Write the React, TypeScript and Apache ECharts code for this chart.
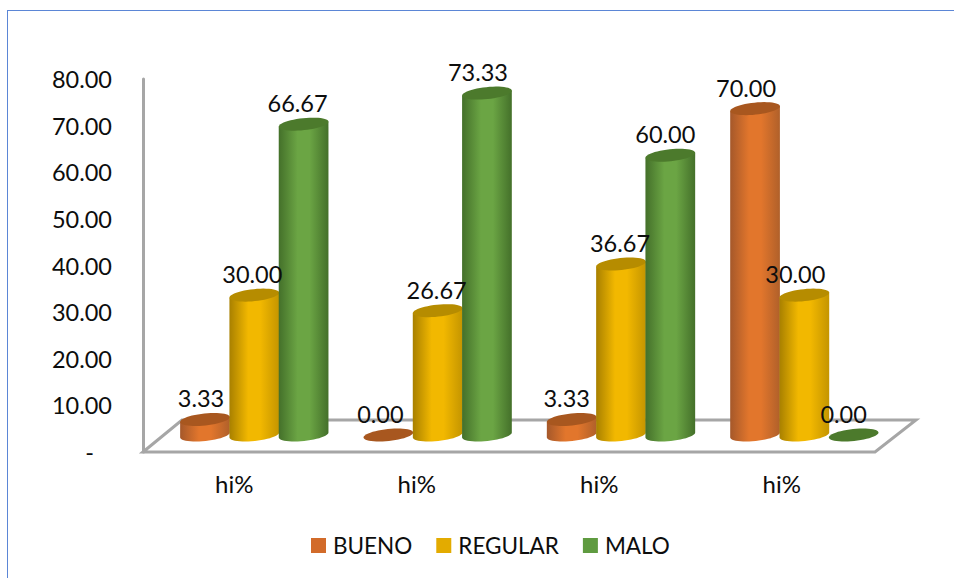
import React, { useEffect, useRef } from "react";
import * as echarts from "echarts";

const categories = ["hi%", "hi%", "hi%", "hi%"];
const seriesNames = ["BUENO", "REGULAR", "MALO"];
const bueno = [3.33, 0.0, 3.33, 70.0];
const regular = [30.0, 26.67, 36.67, 30.0];
const malo = [66.67, 73.33, 60.0, 0.0];
const seriesValues = [bueno, regular, malo];

// label horizontal nudges (px), per series then per category
const labelNudge = [
  [-4, -8, -5, -9],
  [-2, -1, -1, -9],
  [-6, -9, -5, -10],
];

const legendColors = ["#D26B2A", "#E3AB00", "#5F9B40"];
const topColors = ["#A8571F", "#B68C00", "#4C7A2C"];
const gradients = [
  ["#A5582A", "#E2762C", "#B0602A"],
  ["#A88000", "#F2B800", "#C49500"],
  ["#44702A", "#6BA544", "#44702A"],
];

const FONT = "Lato";
const LABEL_SIZE = 23.5;
const RX = 25;
const RY = 6;
const TILT = (6 * Math.PI) / 180;
const FLOOR_LIFT = 17;
const BAR_STEP = 49.3;
const GROUP_START = -29.25;
const GROUP_DRIFT = 0.85;

function ellipsePoint(cx: number, cy: number, a: number) {
  const ex = RX * Math.cos(a);
  const ey = RY * Math.sin(a);
  return [cx + ex * Math.cos(TILT) + ey * Math.sin(TILT), cy - ex * Math.sin(TILT) + ey * Math.cos(TILT)];
}

function ellipsePoints(cx: number, cy: number) {
  const pts: number[][] = [];
  for (let i = 0; i < 48; i++) pts.push(ellipsePoint(cx, cy, (i / 48) * Math.PI * 2));
  return pts;
}

function bodyPoints(cx: number, topY: number, botY: number) {
  const pts: number[][] = [];
  // lower half of the base, left tip to right tip
  for (let i = 0; i <= 24; i++) pts.push(ellipsePoint(cx, botY, Math.PI - (i / 24) * Math.PI));
  pts.push(ellipsePoint(cx, topY, 0));
  pts.push(ellipsePoint(cx, topY, Math.PI));
  return pts;
}

function makeSeries(s: number) {
  return {
    name: seriesNames[s],
    type: "custom",
    itemStyle: { color: legendColors[s] },
    encode: { x: 0, y: 1 },
    data: seriesValues[s].map((v, i) => [i, v]),
    renderItem: (_params: any, api: any) => {
      const idx = api.value(0);
      const val = api.value(1);
      const p = api.coord([idx, val]);
      const zero = api.coord([idx, 0]);
      const cx = p[0] + GROUP_START + idx * GROUP_DRIFT + s * BAR_STEP;
      const top = p[1] - FLOOR_LIFT;
      const bot = zero[1] - FLOOR_LIFT;
      const children: any[] = [];
      if (val > 0) {
        const g = gradients[s];
        children.push({
          type: "polygon",
          shape: { points: bodyPoints(cx, top, bot) },
          style: {
            fill: {
              type: "linear", x: 0, y: 0, x2: 1, y2: 0,
              colorStops: [
                { offset: 0, color: g[0] },
                { offset: 0.38, color: g[1] },
                { offset: 0.62, color: g[1] },
                { offset: 1, color: g[2] },
              ],
            },
          },
        });
      }
      children.push({
        type: "polygon",
        shape: { points: ellipsePoints(cx, top) },
        style: { fill: topColors[s] },
      });
      children.push({
        type: "text",
        z2: 10,
        style: {
          text: val.toFixed(2),
          x: cx + labelNudge[s][idx],
          y: top - 21,
          align: "center",
          verticalAlign: "middle",
          fontFamily: FONT,
          fontSize: LABEL_SIZE,
          fill: "#0D0D0D",
        },
      });
      return { type: "group", children };
    },
  };
}

export default function App() {
  const ref = useRef<HTMLDivElement>(null);
  useEffect(() => {
    const chart = echarts.init(ref.current!, undefined, { renderer: "svg" });
    chart.setOption({
      animation: false,
      backgroundColor: "#FFFFFF",
      textStyle: { fontFamily: FONT },
      grid: { left: 143, top: 79, width: 730, height: 373, containLabel: false },
      xAxis: {
        type: "category",
        data: categories,
        axisLine: { show: false },
        axisTick: { show: false },
        axisLabel: { margin: 19, fontFamily: FONT, fontSize: 24, color: "#0D0D0D", interval: 0 },
      },
      yAxis: {
        type: "value",
        min: 0,
        max: 80,
        interval: 10,
        splitLine: { show: false },
        axisTick: { show: false },
        axisLine: { show: true, lineStyle: { color: "#A6A6A6", width: 3 } },
        axisLabel: {
          margin: 31,
          fontFamily: FONT,
          fontSize: LABEL_SIZE,
          color: "#0D0D0D",
          formatter: (v: number) => (v === 0 ? "-   " : v.toFixed(2)),
        },
      },
      legend: {
        show: true,
        data: seriesNames,
        left: 306,
        top: 529,
        icon: "rect",
        itemWidth: 15,
        itemHeight: 15,
        itemGap: 24,
        textStyle: { fontFamily: FONT, fontSize: 22.5, color: "#0D0D0D", padding: [0, 0, 0, 2] },
      },
      graphic: [
        { type: "line", z: 1, shape: { x1: 7.5, y1: 10, x2: 7.5, y2: 578 }, style: { stroke: "#5B86D6", lineWidth: 1 } },
        { type: "line", z: 1, shape: { x1: 7, y1: 10.5, x2: 954, y2: 10.5 }, style: { stroke: "#5B86D6", lineWidth: 1 } },
        {
          type: "polygon",
          z: 1,
          shape: { points: [[143, 452], [182, 420], [916, 420], [875, 452]] },
          style: { stroke: "#A6A6A6", lineWidth: 3, fill: "none" },
        },
      ],
      series: [makeSeries(0), makeSeries(1), makeSeries(2)],
    });
    return () => chart.dispose();
  }, []);
  return <div ref={ref} style={{ position: "absolute", left: 0, top: 0, width: 954, height: 578 }} />;
}
